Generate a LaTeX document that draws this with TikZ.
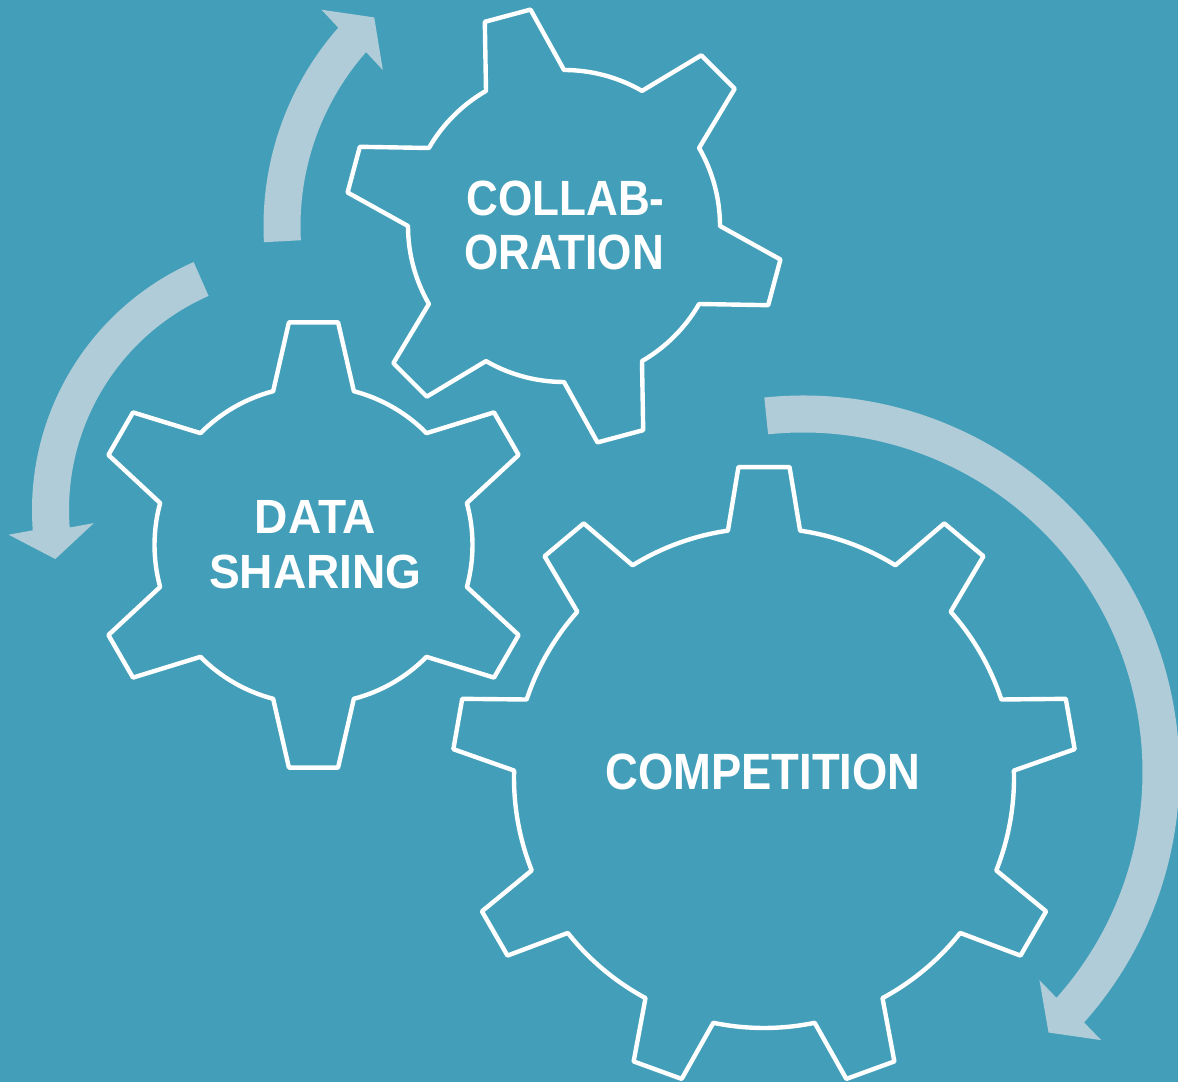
\documentclass[tikz,border=0pt]{standalone}
\usepackage{fontspec}
\newfontfamily\gearfont{Liberation Sans}[FakeStretch=0.89]
\newfontfamily\widegearfont{Liberation Sans}[FakeStretch=0.96]
\usetikzlibrary{calc}

\definecolor{bgteal}{RGB}{67,159,185}
\definecolor{arrowgrey}{RGB}{176,204,216}

\tikzset{
  gearline/.style={draw=white, line width=4.4pt, line join=round},
  arrowband/.style={fill=arrowgrey},
  gearlabel/.style={text=white, anchor=base, inner sep=0pt,
    font=\gearfont\bfseries\fontsize{#1}{54pt}\selectfont},
  widelabel/.style={text=white, anchor=base, inner sep=0pt,
    font=\widegearfont\bfseries\fontsize{#1}{54pt}\selectfont},
}

% gear outline: #1,#2 centre; #3 root radius; #4 tip radius; #5 teeth;
% #6 angle of first tooth; #7 half angle at root; #8 half angle at tip
\newcommand{\drawgear}[8]{%
  \pgfmathsetmacro{\gstep}{360/#5}
  \draw[gearline, shift={(#1pt,#2pt)}] ({#6-#7}:#3pt)
    \foreach \k in {1,...,#5}{
      -- ({#6+(\k-1)*\gstep-#8}:#4pt)
      -- ({#6+(\k-1)*\gstep+#8}:#4pt)
      -- ({#6+(\k-1)*\gstep+#7}:#3pt)
      arc[start angle={#6+(\k-1)*\gstep+#7}, end angle={#6+\k*\gstep-#7}, radius=#3pt]
    } -- cycle;
}

% curved band arrow: #1,#2 centre; #3 radius; #4 tail angle; #5 neck angle;
% #6 tip angle; #7 rotation to outer barb; #8 rotation to inner barb
\newcommand{\bentarrow}[8]{%
  \begin{scope}[shift={(#1pt,#2pt)}]
    \coordinate (neck) at ({#5}:#3pt);
    \coordinate (tip) at ({#6}:#3pt);
    \fill[arrowband] ({#4}:{#3pt+18.5pt})
      arc[start angle={#4}, end angle={#5}, radius={#3pt+18.5pt}]
      -- ($(neck)!43pt!#7:(tip)$) -- (tip) -- ($(neck)!43pt!#8:(tip)$)
      -- ({#5}:{#3pt-18.5pt})
      arc[start angle={#5}, end angle={#4}, radius={#3pt-18.5pt}] -- cycle;
  \end{scope}}

\begin{document}
\begin{tikzpicture}
  \useasboundingbox (0pt,0pt) rectangle (1178pt,1082pt);
  \fill[bgteal] (0pt,0pt) rectangle (1178pt,1082pt);

  % cycle arrows
  \bentarrow{564}{856}{282}{183.1}{138.7}{132.3}{90}{-90}
  \bentarrow{303}{572}{252.5}{113.8}{184.3}{191.2}{-90}{90}
  \bentarrow{803}{310}{358}{95.9}{-41.7}{-46.7}{90}{-90}

  % gears
  \drawgear{564}{856}{156}{219}{6}{105}{15}{6.2}
  \drawgear{313.5}{537}{159}{224}{6}{90}{14.7}{6.3}
  \drawgear{764}{304}{250}{312}{9}{90}{8.3}{4.7}

  % labels
  \node[gearlabel=49.5pt] (collabA) at (565.5pt,866pt) {COLLAB-};
  \node[gearlabel=49.5pt] (collabB) at (564pt,812.5pt) {ORATION};
  \node[widelabel=48pt] (dataA) at (315.5pt,548.5pt) {DATA};
  \node[widelabel=48pt] (dataB) at (315.3pt,493.5pt) {SHARING};
  \node[gearlabel=51pt] (comp) at (763pt,292.5pt) {COMPETITION};
\end{tikzpicture}
\end{document}
